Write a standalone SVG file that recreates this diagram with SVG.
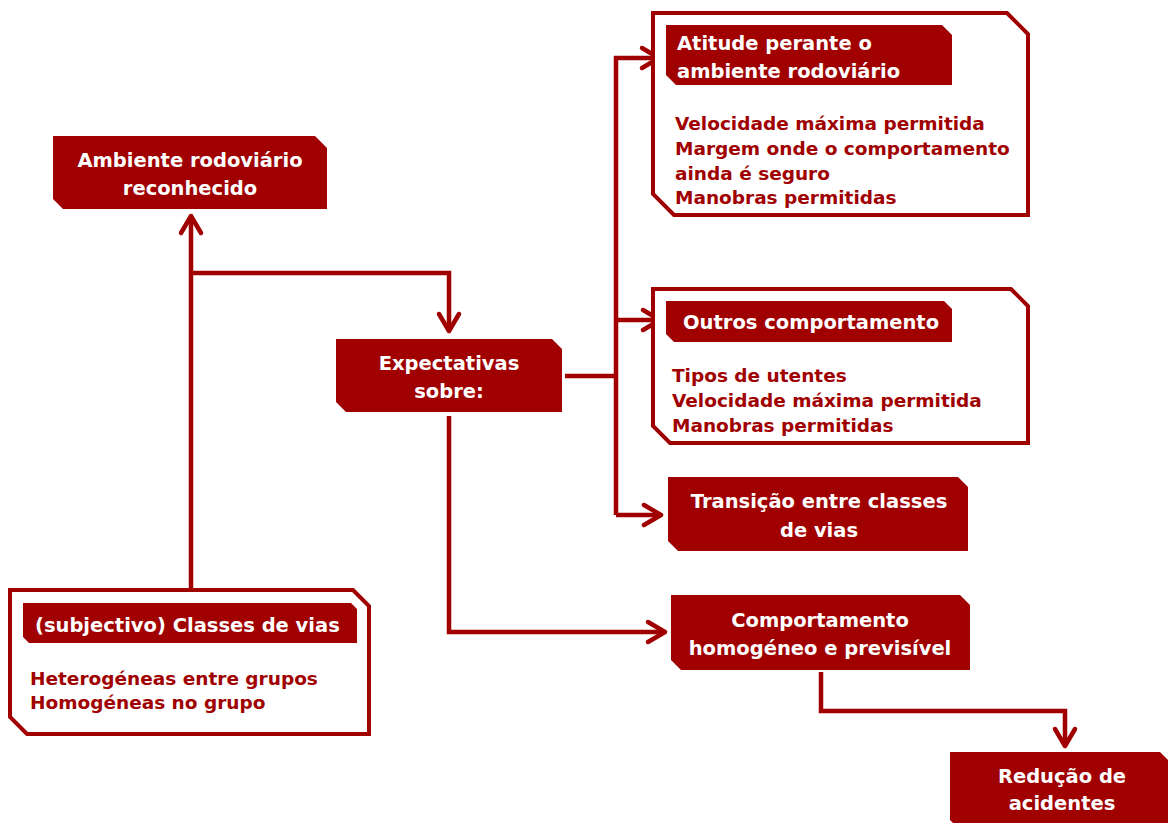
<svg xmlns="http://www.w3.org/2000/svg" width="1168" height="823" viewBox="0 0 1168 823">
  <style>
    .fill { fill: #A00000; }
    .frame { fill: #FFFFFF; stroke: #A00000; stroke-width: 4; stroke-linejoin: miter; }
    .wt { fill: #FFFFFF; font-family: "DejaVu Sans", "Liberation Sans", sans-serif; font-weight: bold; font-size: 19.5px; }
    .rt { fill: #A00000; font-family: "DejaVu Sans", "Liberation Sans", sans-serif; font-weight: bold; font-size: 18.5px; }
    .mid { text-anchor: middle; }
    .conn { fill: none; stroke: #A00000; stroke-width: 4.5; stroke-linecap: butt; stroke-linejoin: miter; }
  </style>
  <defs>
    <marker id="arrow" markerUnits="userSpaceOnUse" markerWidth="40" markerHeight="40" viewBox="-30 -20 40 40" refX="0" refY="0" orient="auto">
      <path d="M-17,-10 L0,0 L-17,10" fill="none" stroke="#A00000" stroke-width="4.5" stroke-linecap="round" stroke-linejoin="round"/>
    </marker>
  </defs>
  <rect width="1168" height="823" fill="#FFFFFF"/>

  <g id="connectors">
    <path class="conn" d="M191,597 V216" marker-end="url(#arrow)"/>
    <path class="conn" d="M191,273 H449 V331" marker-end="url(#arrow)"/>
    <path class="conn" d="M565,376 H616"/>
    <path class="conn" d="M616,56 V515"/>
    <path class="conn" d="M614,58 H659" marker-end="url(#arrow)"/>
    <path class="conn" d="M616,320 H660" marker-end="url(#arrow)"/>
    <path class="conn" d="M616,515 H661" marker-end="url(#arrow)"/>
    <path class="conn" d="M449,416 V632 H665" marker-end="url(#arrow)"/>
    <path class="conn" d="M821,672 V711 H1065 V746" marker-end="url(#arrow)"/>
  </g>

  <g id="ambiente">
    <path class="fill" d="M53,136 H315 L327,148 V209 H63 L53,199 Z"/>
    <text class="wt mid" x="190" y="167">Ambiente rodoviário</text>
    <text class="wt mid" x="190" y="195">reconhecido</text>
  </g>

  <g id="expectativas">
    <path class="fill" d="M336,339 H552 L562,349 V412 H346 L336,402 Z"/>
    <text class="wt mid" x="449" y="370">Expectativas</text>
    <text class="wt mid" x="449" y="398">sobre:</text>
  </g>

  <g id="atitude">
    <path class="frame" d="M653,13 H1007 L1028,34 V215 H674 L653,194 Z"/>
    <path class="fill" d="M666,25 H942 L952,35 V85 H676 L666,75 Z"/>
    <text class="wt" x="677" y="50">Atitude perante o</text>
    <text class="wt" x="677" y="78">ambiente rodoviário</text>
    <text class="rt" x="675" y="130">Velocidade máxima permitida</text>
    <text class="rt" x="675" y="155">Margem onde o comportamento</text>
    <text class="rt" x="675" y="180">ainda é seguro</text>
    <text class="rt" x="675" y="204">Manobras permitidas</text>
  </g>

  <g id="outros">
    <path class="frame" d="M653,289 H1011 L1028,306 V443 H670 L653,426 Z"/>
    <path class="fill" d="M666,301 H944 L952,309 V342 H674 L666,334 Z"/>
    <text class="wt" x="683" y="329">Outros comportamento</text>
    <text class="rt" x="672" y="382">Tipos de utentes</text>
    <text class="rt" x="672" y="407">Velocidade máxima permitida</text>
    <text class="rt" x="672" y="432">Manobras permitidas</text>
  </g>

  <g id="transicao">
    <path class="fill" d="M668,477 H958 L968,487 V551 H678 L668,541 Z"/>
    <text class="wt mid" x="819" y="508">Transição entre classes</text>
    <text class="wt mid" x="819" y="537">de vias</text>
  </g>

  <g id="comportamento">
    <path class="fill" d="M671,595 H960 L970,605 V670 H681 L671,660 Z"/>
    <text class="wt mid" x="820" y="627">Comportamento</text>
    <text class="wt mid" x="820" y="655">homogéneo e previsível</text>
  </g>

  <g id="reducao">
    <path class="fill" d="M950,752 H1160 L1168,760 V828 H958 L950,820 Z"/>
    <text class="wt mid" x="1062" y="783">Redução de</text>
    <text class="wt mid" x="1062" y="810">acidentes</text>
  </g>

  <g id="classes">
    <path class="frame" d="M10,590 H353 L369,606 V734 H27 L10,717 Z"/>
    <path class="fill" d="M23,603 H351 L357,609 V643 H29 L23,637 Z"/>
    <text class="wt" x="35" y="632">(subjectivo) Classes de vias</text>
    <text class="rt" x="30" y="685">Heterogéneas entre grupos</text>
    <text class="rt" x="30" y="709">Homogéneas no grupo</text>
  </g>
</svg>
